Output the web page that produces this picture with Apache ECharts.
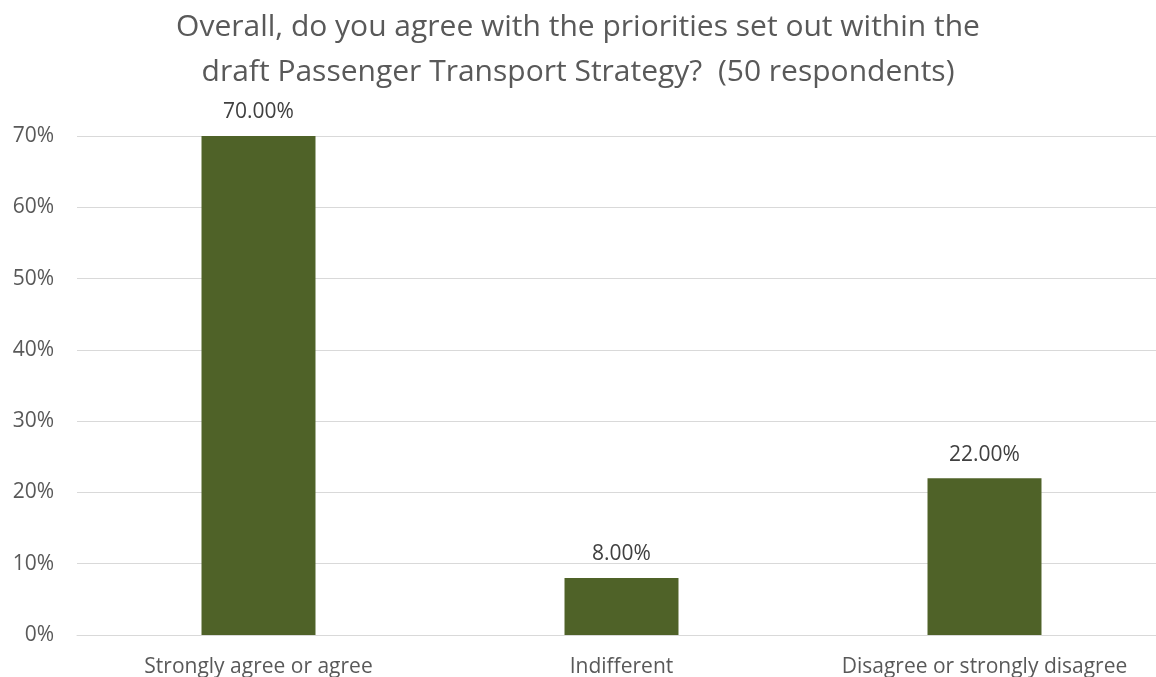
<!DOCTYPE html>
<html><head><meta charset="utf-8">
<script src="https://cdn.jsdelivr.net/npm/echarts@6/dist/echarts.min.js"></script>
<style>html,body{margin:0;padding:0;background:#fff}#c{width:1156px;height:677px}</style>
</head><body><div id="c"></div>
<script>
const categories = ["Strongly agree or agree", "Indifferent", "Disagree or strongly disagree"];
const values = [0.70, 0.08, 0.22];
const titleText = "Overall, do you agree with the priorities set out within the\ndraft Passenger Transport Strategy?  (50 respondents)";

const chart = echarts.init(document.getElementById('c'));
const font = "Open Sans";
chart.setOption({
  animation: false,
  title: {
    text: titleText, left: 'center', top: 5, padding: 0,
    textStyle: {fontFamily: font, fontSize: 30, fontWeight: 'normal', color: '#595959', lineHeight: 45}
  },
  grid: {left: 77, width: 1089, top: 136, bottom: 42, containLabel: false, outerBoundsMode: 'none'},
  xAxis: {
    type: 'category', data: categories,
    axisLine: {lineStyle: {color: '#D9D9D9', width: 1}},
    axisTick: {show: false},
    axisLabel: {fontFamily: font, fontSize: 21, color: '#595959', margin: 22, interval: 0, hideOverlap: false}
  },
  yAxis: {
    type: 'value', min: 0, max: 0.7, interval: 0.1,
    axisLine: {show: false}, axisTick: {show: false},
    splitLine: {lineStyle: {color: '#D9D9D9', width: 1}},
    axisLabel: {fontFamily: font, fontSize: 21, color: '#595959', margin: 23,
      formatter: v => Math.round(v * 100) + '%'}
  },
  series: [{
    type: 'bar', data: values, barWidth: '31.4%',
    itemStyle: {color: '#4F6228'},
    label: {show: true, position: 'top', distance: 13, fontFamily: font, fontSize: 21, color: '#404040',
      formatter: p => (p.value * 100).toFixed(2) + '%'}
  }]
});
</script></body></html>
